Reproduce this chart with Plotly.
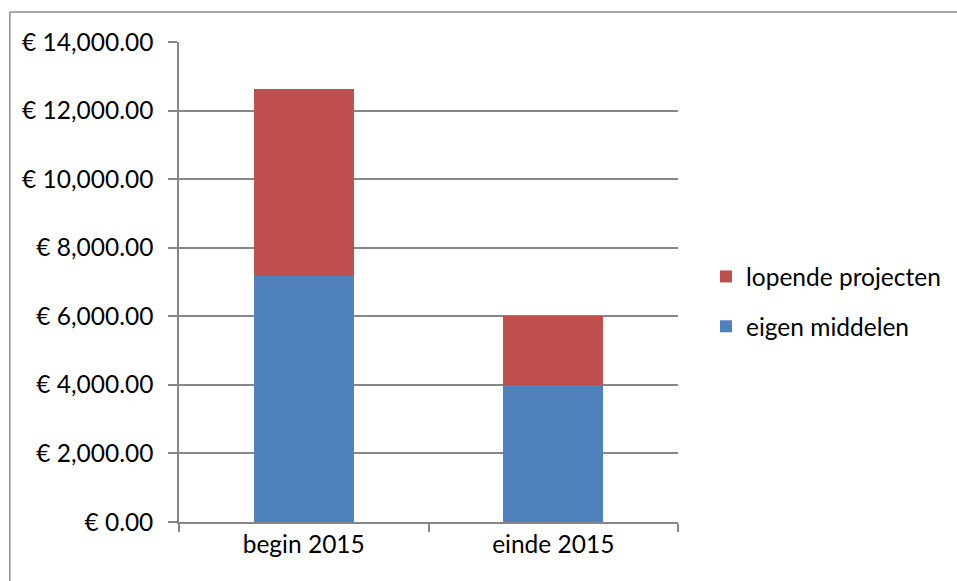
import plotly.graph_objects as go

categories = ["begin 2015", "einde 2015"]
eigen_middelen = [7166, 3990]
lopende_projecten = [5474, 2010]
y_ticks = [0, 2000, 4000, 6000, 8000, 10000, 12000, 14000]
y_tick_labels = ["€ " + f"{v:,.2f}" for v in y_ticks]

FONT = "Lato"
FS = 24.5
GRID = "#878787"

W, H = 957, 581
# plot area in page pixels
L, R, T, B = 179, 679, 42, 522
pw, ph = R - L, B - T

def px(x):
    return (x - L) / pw

def py(y):
    return (B - y) / ph

fig = go.Figure()
fig.add_trace(go.Bar(name="eigen middelen", x=categories, y=eigen_middelen,
                     marker=dict(color="#4F81BD", line=dict(width=0)),
                     legendgroup="a", legendrank=2))
fig.add_trace(go.Bar(name="lopende projecten", x=categories, y=lopende_projecten,
                     marker=dict(color="#C0504D", line=dict(width=0)),
                     legendgroup="b", legendrank=1))

border = dict(color="#8C8C8C", width=1.5)
fig.update_layout(
    width=W, height=H, autosize=False,
    margin=dict(l=L, r=W - R, t=T, b=H - B, pad=0),
    barmode="stack", bargap=0.6,
    plot_bgcolor="white", paper_bgcolor="white",
    font=dict(family=FONT, size=FS, color="#000000"),
    showlegend=True,
    legend=dict(x=px(706), y=py(254), xanchor="left", yanchor="top",
                traceorder="grouped", tracegroupgap=15,
                font=dict(family=FONT, size=FS), bgcolor="rgba(0,0,0,0)",
                itemwidth=30),
    xaxis=dict(showline=True, linecolor=GRID, linewidth=1.5, ticks="outside",
               tickson="boundaries", ticklen=8, tickcolor=GRID, tickwidth=1.5,
               showgrid=False, range=[-0.5, 1.5], fixedrange=True),
    yaxis=dict(range=[0, 14000], tickvals=y_ticks, ticktext=y_tick_labels,
               showline=True, linecolor=GRID, linewidth=1.5, ticks="outside",
               ticklen=9, tickcolor=GRID, tickwidth=1.5,
               showgrid=True, gridcolor=GRID, gridwidth=1.5, zeroline=False,
               ticklabelstandoff=10),
    shapes=[
        dict(type="line", xref="paper", yref="paper",
             x0=px(9.5), x1=px(9.5), y0=py(600), y1=py(12), line=border, layer="below"),
        dict(type="line", xref="paper", yref="paper",
             x0=px(9.5), x1=px(960), y0=py(12), y1=py(12), line=border, layer="below"),
    ],
)

fig.write_html(
    "out.html",
    config={"responsive": False, "displayModeBar": False},
    post_script="document.body.style.margin='0';document.body.style.overflow='hidden';",
)
